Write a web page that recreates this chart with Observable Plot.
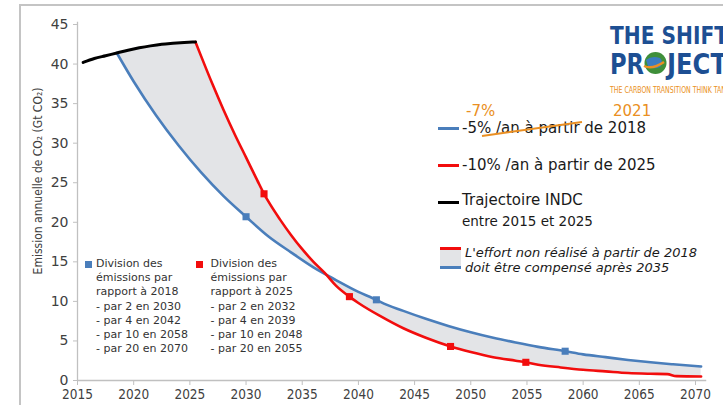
<!DOCTYPE html>
<html><head><meta charset="utf-8">
<script src="https://cdn.jsdelivr.net/npm/d3@7"></script>
<script src="https://cdn.jsdelivr.net/npm/@observablehq/plot@0.6"></script>
<style>
body{margin:0;background:#fff;}
#wrap{position:relative;width:723px;height:405px;overflow:hidden;background:#fff;font-family:"DejaVu Sans",sans-serif;}
#wrap svg.plot{position:absolute;left:0;top:0;}
.frame{position:absolute;left:19px;top:4px;width:800px;height:500px;border-left:2px solid #c4c4c4;border-top:2px solid #c4c4c4;}
.abs{position:absolute;white-space:nowrap;}
.leg{font-size:15px;color:#1a1a1a;line-height:20px;}
.sw{position:absolute;height:3px;width:21px;}
.ann{font-size:11px;color:#333;line-height:14.2px;}
.ytitle{position:absolute;left:38px;top:181px;transform:translate(-50%,-50%) rotate(-90deg);font-family:"Liberation Sans Narrow","DejaVu Sans Condensed",sans-serif;font-size:12px;color:#404040;white-space:nowrap;}
</style></head>
<body><div id="wrap"><div class="frame"></div></div>
<script>
// ---- data (years as positioned on the chart, Gt CO2) ----
const indcYears  = [2015.5, 2016.5, 2017.5, 2018.5, 2019.5, 2020.5, 2021.5, 2022.5, 2023.5, 2024.5, 2025.5];
const indcValues = [40.2, 40.7, 41.05, 41.4, 41.75, 42.05, 42.3, 42.5, 42.62, 42.72, 42.8];

const blueYears  = [2018.5, 2020, 2022, 2024, 2026, 2028, 2030, 2032, 2034, 2036, 2038, 2040, 2041.6, 2042, 2044, 2046, 2048, 2050, 2052, 2054, 2056, 2058.4, 2060, 2062, 2064, 2066, 2068, 2070.5];
const blueValues = [41.4, 37.8, 33.5, 29.7, 26.3, 23.3, 20.7, 18.2, 16.2, 14.3, 12.7, 11.2, 10.2, 9.9, 8.8, 7.8, 6.9, 6.1, 5.4, 4.8, 4.25, 3.7, 3.3, 2.95, 2.6, 2.3, 2.05, 1.77];

const redYears  = [2025.5, 2026, 2027, 2028, 2029, 2030, 2031, 2031.6, 2032, 2033, 2034, 2035, 2036, 2037, 2038, 2039.2, 2040, 2042, 2044, 2046, 2048.2, 2050, 2052, 2054, 2054.9, 2056, 2058, 2060, 2062, 2064, 2066, 2067.5, 2068.3, 2070.5];
const redValues = [42.8, 41.0, 37.5, 34.2, 31.1, 28.2, 25.3, 23.6, 22.6, 20.4, 18.4, 16.6, 15.0, 13.6, 12.0, 10.6, 9.8, 8.1, 6.6, 5.4, 4.3, 3.6, 2.95, 2.5, 2.3, 2.0, 1.65, 1.35, 1.15, 0.95, 0.85, 0.8, 0.55, 0.5];

const blueMarkYears  = [2030, 2041.6, 2058.4];
const blueMarkValues = [20.7, 10.2, 3.7];
const redMarkYears   = [2031.6, 2039.2, 2048.2, 2054.9];
const redMarkValues  = [23.6, 10.6, 4.3, 2.3];

const xTicks = [2015, 2020, 2025, 2030, 2035, 2040, 2045, 2050, 2055, 2060, 2065, 2070];
const yTicks = [0, 5, 10, 15, 20, 25, 30, 35, 40, 45];

const yTitle = "Emission annuelle de CO₂ (Gt CO₂)";
const legendBlue = "-5% /an à partir de 2018";
const legendRed = "-10% /an à partir de 2025";
const legendIndc = ["Trajectoire INDC", "entre 2015 et 2025"];
const legendFill = ["L'effort non réalisé à partir de 2018", "doit être compensé après 2035"];
const correction = ["-7%", "2021"];
const blueNote = ["Division des", "émissions par", "rapport à 2018", "- par 2 en 2030", "- par 4 en 2042", "- par 10 en 2058", "- par 20 en 2070"];
const redNote  = ["Division des", "émissions par", "rapport à 2025", "- par 2 en 2032", "- par 4 en 2039", "- par 10 en 2048", "- par 20 en 2055"];

// ---- colours ----
const BLUE = "#4a7ebb", RED = "#f20d0d", BLACK = "#000", FILL = "#e3e4e7", ORANGE = "#ea8f22", AXIS = "#c0c0c0";

const zip = (xs, ys) => xs.map((x, i) => ({x, y: ys[i]}));
const indc = zip(indcYears, indcValues);
const blue = zip(blueYears, blueValues);
const red = zip(redYears, redValues);

// upper path of the shaded band: INDC from 2018.5 then the red trajectory
const upper = indc.filter(d => d.x >= blueYears[0]).concat(red.slice(1));
function interp(pts, x) {
  for (let i = 0; i < pts.length - 1; i++) {
    const a = pts[i], b = pts[i + 1];
    if (x >= a.x && x <= b.x) return a.y + (b.y - a.y) * (x - a.x) / (b.x - a.x);
  }
  return pts[pts.length - 1].y;
}
const bandXs = Array.from(new Set(blue.map(d => d.x).concat(upper.map(d => d.x)))).sort((a, b) => a - b);
const band = bandXs.map(x => ({x, y1: interp(blue, x), y2: interp(upper, x)}));

const CURVE = "monotone-x";
const chart = Plot.plot({
  width: 723, height: 405,
  marginLeft: 77, marginRight: 28, marginTop: 24, marginBottom: 25,
  x: {domain: [2015, 2070]},
  y: {domain: [0, 45]},
  style: {fontFamily: "DejaVu Sans", background: "transparent", overflow: "visible"},
  marks: [
    Plot.areaY(band, {x: "x", y1: "y1", y2: "y2", fill: FILL, curve: CURVE}),
    Plot.ruleY([0], {x1: 2015, x2: 2071, stroke: AXIS, strokeWidth: 1.3}),
    Plot.ruleX([2015], {y1: 0, y2: 45.3, stroke: AXIS, strokeWidth: 1.3}),
    Plot.axisX({ticks: xTicks, tickFormat: d => String(d), tickSize: 5, tickPadding: 4, stroke: AXIS, fill: "#404040",
      fontFamily: "Liberation Sans Narrow, DejaVu Sans Condensed, sans-serif", fontSize: 13.5, label: null}),
    Plot.axisY({ticks: yTicks, tickSize: 4, tickPadding: 5, stroke: AXIS, fill: "#404040", fontSize: 14, label: null}),
    Plot.line(blue, {x: "x", y: "y", stroke: BLUE, strokeWidth: 2.6, curve: CURVE}),
    Plot.line(red, {x: "x", y: "y", stroke: RED, strokeWidth: 2.6, curve: CURVE}),
    Plot.line(indc, {x: "x", y: "y", stroke: BLACK, strokeWidth: 3, curve: CURVE}),
    Plot.dot(zip(blueMarkYears, blueMarkValues), {x: "x", y: "y", symbol: "square", r: 4, fill: BLUE}),
    Plot.dot(zip(redMarkYears, redMarkValues), {x: "x", y: "y", symbol: "square", r: 4, fill: RED})
  ]
});
chart.classList.add("plot");
const wrap = document.getElementById("wrap");
wrap.appendChild(chart);

function add(html) { wrap.insertAdjacentHTML("beforeend", html); }

// y axis title
add(`<div class="ytitle">${yTitle}</div>`);

// legend
add(`<div class="abs leg" style="left:466px;top:101px;color:${ORANGE}">${correction[0]}</div>`);
add(`<div class="abs leg" style="left:613px;top:101px;color:${ORANGE}">${correction[1]}</div>`);
add(`<div class="sw" style="left:438px;top:126.5px;background:${BLUE}"></div>`);
add(`<div class="abs leg" style="left:462px;top:118px">${legendBlue}</div>`);
add(`<svg class="abs" style="left:0;top:0" width="723" height="405"><line x1="482" y1="136" x2="582" y2="122" stroke="${ORANGE}" stroke-width="2"/></svg>`);
add(`<div class="sw" style="left:438px;top:163.5px;background:${RED}"></div>`);
add(`<div class="abs leg" style="left:462px;top:155px">${legendRed}</div>`);
add(`<div class="sw" style="left:438px;top:200.5px;background:${BLACK}"></div>`);
add(`<div class="abs leg" style="left:462px;top:190px">${legendIndc[0]}</div>`);
add(`<div class="abs leg" style="left:462px;top:211px;font-size:13.5px">${legendIndc[1]}</div>`);
add(`<div class="abs" style="left:440px;top:246.5px;width:21px;height:3px;background:${RED}"></div>`);
add(`<div class="abs" style="left:440px;top:249.5px;width:21px;height:16px;background:${FILL}"></div>`);
add(`<div class="abs" style="left:440px;top:265.5px;width:21px;height:3px;background:${BLUE}"></div>`);
add(`<div class="abs leg" style="left:465px;top:244.5px;font-style:italic;line-height:15px;font-size:13px">${legendFill[0]}<br>${legendFill[1]}</div>`);

// notes
add(`<div class="abs" style="left:85px;top:260.5px;width:7px;height:7px;background:${BLUE}"></div>`);
add(`<div class="abs ann" style="left:96px;top:257px">${blueNote.join("<br>")}</div>`);
add(`<div class="abs" style="left:196px;top:260.5px;width:7px;height:7px;background:${RED}"></div>`);
add(`<div class="abs ann" style="left:210.5px;top:257px">${redNote.join("<br>")}</div>`);

// logo
add(`<svg class="abs" style="left:0;top:0" width="723" height="405">
  <g font-family="Liberation Sans Narrow, DejaVu Sans Condensed, sans-serif" font-weight="bold" fill="#1d4f93">
    <text x="610" y="43.5" font-size="25" textLength="118" lengthAdjust="spacingAndGlyphs">THE SHIFT</text>
    <text x="610" y="73.5" font-size="28" textLength="34" lengthAdjust="spacingAndGlyphs">PR</text>
    <text x="667" y="73.5" font-size="28" textLength="60" lengthAdjust="spacingAndGlyphs">JECT</text>
  </g>
  <circle cx="655.5" cy="63" r="11" fill="#3f8f3a"/>
  <path d="M646,60 Q652,55 660,58 Q664,62 660,67 Q653,70 648,66 Z" fill="#3a7cc0"/>
  <path d="M644,66 Q652,70 664,62" stroke="${ORANGE}" stroke-width="2.5" fill="none"/>
  <text x="610" y="92.5" font-family="Liberation Sans Narrow, DejaVu Sans Condensed, sans-serif" font-size="8" fill="${ORANGE}" textLength="120" lengthAdjust="spacingAndGlyphs">THE CARBON TRANSITION THINK TANK</text>
</svg>`);
</script>
</body></html>
